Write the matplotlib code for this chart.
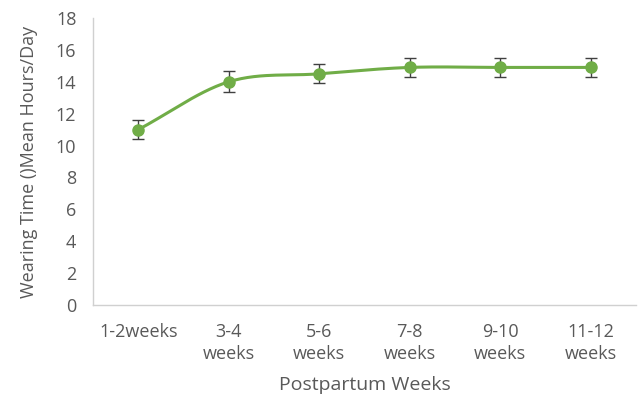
import numpy as np
import matplotlib.pyplot as plt

categorias = ["1-2weeks", "3-4\nweeks", "5-6\nweeks", "7-8\nweeks", "9-10\nweeks", "11-12\nweeks"]
media = [11.0, 14.0, 14.5, 14.9, 14.9, 14.9]
erro = [0.6, 0.65, 0.6, 0.6, 0.6, 0.6]

verde = "#70AD47"
cinza = "#595959"
plt.rcParams['font.family'] = ['Open Sans', 'DejaVu Sans']


def suaviza(x, y, n=30):
    # curva suavizada estilo Excel (Catmull-Rom)
    x = np.asarray(x, float)
    y = np.asarray(y, float)
    px = np.concatenate([[2 * x[0] - x[1]], x, [2 * x[-1] - x[-2]]])
    py = np.concatenate([[2 * y[0] - y[1]], y, [2 * y[-1] - y[-2]]])
    xs, ys = [], []
    t = np.linspace(0, 1, n)
    for i in range(1, len(px) - 2):
        for p, out in ((px, xs), (py, ys)):
            p0, p1, p2, p3 = p[i - 1], p[i], p[i + 1], p[i + 2]
            out.extend(0.5 * (2 * p1 + (-p0 + p2) * t + (2 * p0 - 5 * p1 + 4 * p2 - p3) * t ** 2
                              + (-p0 + 3 * p1 - 3 * p2 + p3) * t ** 3))
    return np.array(xs), np.array(ys)


my_dpi = 100
fig = plt.figure(figsize=(638 / my_dpi, 396 / my_dpi), dpi=my_dpi)
ax = fig.add_axes([93 / 638, 1 - 305 / 396, 543 / 638, 287 / 396])

x = np.arange(len(categorias))
sx, sy = suaviza(x, media)
ax.plot(sx, sy, color=verde, linewidth=2.2, zorder=2)
ax.errorbar(x, media, yerr=erro, fmt="o", color=verde, markersize=8, ecolor="#404040",
            elinewidth=1, capsize=4, capthick=1, zorder=3)

ax.set_xlim(-0.5, len(categorias) - 0.5)
ax.set_ylim(0, 18)
ax.set_yticks(range(0, 19, 2))
ax.set_xticks(x)
ax.set_xticklabels(categorias, va="top", linespacing=1.3)
ax.tick_params(axis="both", length=0, labelsize=13, colors=cinza)
ax.tick_params(axis="x", pad=13)
ax.tick_params(axis="y", pad=12)

for lado in ["top", "right"]:
    ax.spines[lado].set_visible(False)
for lado in ["left", "bottom"]:
    ax.spines[lado].set_color("#D0D0D0")
    ax.spines[lado].set_linewidth(1)

ax.set_xlabel("Postpartum Weeks", fontsize=14, color=cinza, labelpad=9)
ax.set_ylabel("Wearing Time ()Mean Hours/Day", fontsize=13, color=cinza, labelpad=13)

plt.savefig("out.png", dpi=my_dpi)
